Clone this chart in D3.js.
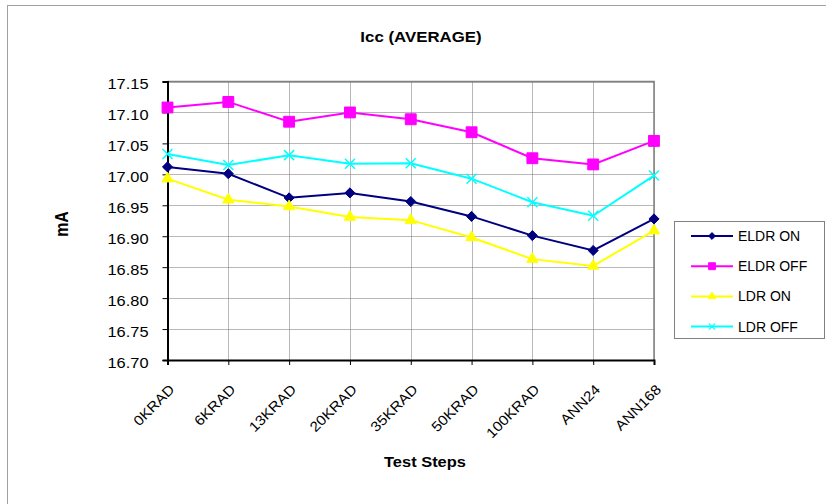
<!DOCTYPE html>
<html><head><meta charset="utf-8">
<script src="https://cdn.jsdelivr.net/npm/d3@7"></script>
<style>body{margin:0;background:#fff}svg{display:block;font-family:Arial,"Liberation Sans",sans-serif}</style>
</head><body>
<script>
const categories = ["0KRAD","6KRAD","13KRAD","20KRAD","35KRAD","50KRAD","100KRAD","ANN24","ANN168"];
const eldrOn  = [17.012,17.001,16.962,16.970,16.956,16.932,16.901,16.877,16.928];
const eldrOff = [17.108,17.117,17.085,17.100,17.089,17.068,17.026,17.016,17.054];
const ldrOn   = [16.993,16.959,16.948,16.931,16.926,16.898,16.863,16.852,16.909];
const ldrOff  = [17.033,17.015,17.031,17.017,17.018,16.993,16.955,16.933,16.998];
const yTicks  = [16.70,16.75,16.80,16.85,16.90,16.95,17.00,17.05,17.10,17.15];
const seriesNames = ["ELDR ON","ELDR OFF","LDR ON","LDR OFF"];
const seriesColors = ["#000080","#FF00FF","#FFFF00","#00FFFF"];
const seriesSymbols = ["diamond","square","triangle","x"];
const series = [eldrOn, eldrOff, ldrOn, ldrOff];

const W=826,H=504;
const FF="Arial, 'Liberation Sans', sans-serif";
const svg=d3.select("body").append("svg").attr("width",W).attr("height",H);
svg.append("rect").attr("x",7.5).attr("y",5.5).attr("width",W).attr("height",H).attr("fill","none").attr("stroke","#a0a0a0");

function stretch(sel,f){
  sel.each(function(){
    const len=this.getComputedTextLength();
    d3.select(this).attr("textLength",len*f).attr("lengthAdjust","spacingAndGlyphs");
  });
}

const L=167.5,R=654,T=81.5,B=360;
const x=d3.scalePoint().domain(categories).range([L,R]);
const y=d3.scaleLinear().domain([16.70,17.15]).range([B,T]);

// gridlines
const g=svg.append("g");
g.selectAll(".hg").data(yTicks).join("line").attr("x1",L).attr("x2",R).attr("y1",d=>Math.round(y(d))+0.5).attr("y2",d=>Math.round(y(d))+0.5)
 .attr("stroke","#707070").attr("stroke-width",1).attr("stroke-dasharray","1,1");
g.selectAll(".vg").data(categories).join("line").attr("x1",d=>Math.round(x(d))+0.5).attr("x2",d=>Math.round(x(d))+0.5).attr("y1",T).attr("y2",B)
 .attr("stroke","#707070").attr("stroke-width",1).attr("stroke-dasharray","1,1");
// top/right border
svg.append("path").attr("d",`M${L},${T}H${R}V${B}`).attr("fill","none").attr("stroke","#808080").attr("stroke-width",1.5);

// axes
const yAxis=d3.axisLeft(y).tickValues(yTicks).tickFormat(d3.format(".2f")).tickSize(5).tickPadding(14);
const ya=svg.append("g").attr("transform",`translate(${L},0)`).call(yAxis);
ya.attr("font-size",14).attr("font-family",FF);
ya.select(".domain").attr("stroke","#000").attr("stroke-width",2);
ya.selectAll("text").attr("fill","#000").attr("dy","0.5em").call(stretch,1.17);

const xAxis=d3.axisBottom(x).tickSize(5).tickFormat("");
const xa=svg.append("g").attr("transform",`translate(0,${B})`).call(xAxis);
xa.select(".domain").attr("stroke","#000").attr("stroke-width",2);
xa.selectAll(".tick text").remove();
svg.append("g").selectAll("text").data(categories).join("text")
 .attr("transform",d=>`translate(${x(d)+4.5},${B+27}) rotate(-45)`)
 .attr("text-anchor","end").attr("dy","0.35em").attr("font-size",14).attr("fill","#000").text(d=>d)
 .call(stretch,1.1);

// title & labels
svg.append("text").attr("x",421).attr("y",41.7).attr("text-anchor","middle").attr("font-weight","bold").attr("font-size",15.3).text("Icc (AVERAGE)").call(stretch,1.1);
svg.append("text").attr("x",425).attr("y",467.3).attr("text-anchor","middle").attr("font-weight","bold").attr("font-size",15.5).text("Test Steps").call(stretch,1.06);
svg.append("text").attr("transform","translate(68.3,224) scale(1.1,1) rotate(-90)").attr("text-anchor","middle").attr("font-weight","bold").attr("font-size",16).text("mA");

// series
function marker(sel,type,color,size){
  if(type==="x"){
    const s=size;
    sel.append("path").attr("d",`M${-s},${-s}L${s},${s}M${-s},${s}L${s},${-s}`).attr("stroke",color).attr("stroke-width",1.5).attr("fill","none");
  } else {
    const sym={diamond:d3.symbolDiamond2,square:d3.symbolSquare2,triangle:d3.symbolTriangle2}[type];
    const areas={diamond:65,square:150,triangle:90};
    sel.append("path").attr("d",d3.symbol(sym,areas[type])()).attr("fill",color).attr("stroke",color);
  }
}
function markerSmall(sel,type,color){
  if(type==="x"){
    sel.append("path").attr("d","M-3,-3L3,3M-3,3L3,-3").attr("stroke",color).attr("stroke-width",1.2).attr("fill","none");
  } else {
    const sym={diamond:d3.symbolDiamond2,square:d3.symbolSquare2,triangle:d3.symbolTriangle2}[type];
    const areas={diamond:30,square:60,triangle:40};
    sel.append("path").attr("d",d3.symbol(sym,areas[type])()).attr("fill",color).attr("stroke",color);
  }
}
const line=d3.line().x((d,i)=>x(categories[i])).y(d=>y(d));
series.forEach((vals,si)=>{
  const gs=svg.append("g");
  gs.append("path").datum(vals).attr("d",line).attr("fill","none").attr("stroke",seriesColors[si]).attr("stroke-width",2);
  vals.forEach((v,i)=>{
    const m=gs.append("g").attr("transform",`translate(${x(categories[i])},${y(v)})`);
    marker(m,seriesSymbols[si],seriesColors[si],si===3?5:0);
  });
});

// legend
const lg=svg.append("g");
lg.append("rect").attr("x",674.5).attr("y",221.5).attr("width",150).attr("height",117).attr("fill","#fff").attr("stroke","#808080");
seriesNames.forEach((n,i)=>{
  const yy=236+i*30.2;
  lg.append("line").attr("x1",691).attr("x2",733).attr("y1",yy).attr("y2",yy).attr("stroke",seriesColors[i]).attr("stroke-width",2);
  const m=lg.append("g").attr("transform",`translate(712,${yy})`);
  markerSmall(m,seriesSymbols[i],seriesColors[i]);
  lg.append("text").attr("x",738).attr("y",yy).attr("dy","0.35em").attr("font-size",14).text(n);
});
</script>
</body></html>
